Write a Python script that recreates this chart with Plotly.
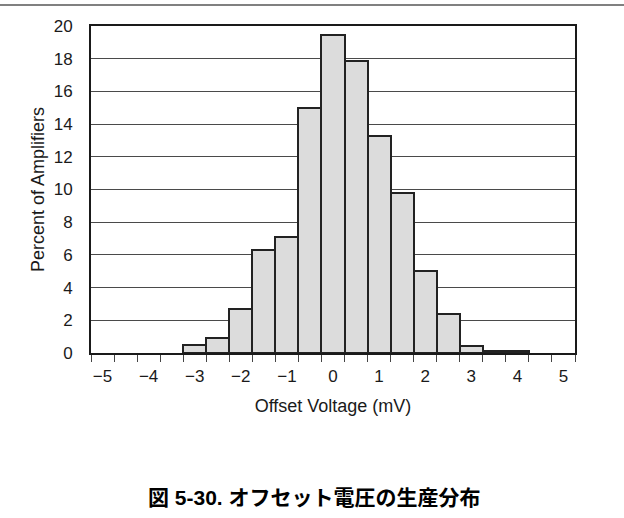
import plotly.graph_objects as go

# Data
bin_centers = [-3.0, -2.5, -2.0, -1.5, -1.0, -0.5, 0.0, 0.5, 1.0, 1.5, 2.0, 2.5, 3.0, 3.5, 4.0]
percent = [0.47, 0.9, 2.7, 6.28, 7.08, 15.0, 19.45, 17.84, 13.27, 9.8, 5.0, 2.41, 0.43, 0.12, 0.12]
x_tick_vals = [-5, -4, -3, -2, -1, 0, 1, 2, 3, 4, 5]
x_tick_text = ["\u22125", "\u22124", "\u22123", "\u22122", "\u22121", "0", "1", "2", "3", "4", "5"]
y_tick_vals = [0, 2, 4, 6, 8, 10, 12, 14, 16, 18, 20]

FONT = "Liberation Sans, Arial, sans-serif"
TXT = "#1a1a1a"
FS = 17
FT = 18

fig = go.Figure()
fig.add_trace(go.Bar(
    x=bin_centers, y=percent, width=0.5,
    marker=dict(color="#dcdcdc", line=dict(color="#222222", width=2)),
    hoverinfo="x+y",
))

fig.update_layout(
    width=624, height=518,
    margin=dict(l=91, r=49, t=26, b=165),
    paper_bgcolor="white", plot_bgcolor="white",
    showlegend=False,
    font=dict(family=FONT, size=FS, color=TXT),
    bargap=0,
)

fig.update_xaxes(
    range=[-5.25, 5.25],
    tickmode="array", tickvals=x_tick_vals, ticktext=x_tick_text,
    ticks="outside", ticklen=7, tickcolor="rgba(0,0,0,0)",
    minor=dict(tick0=-5.25, dtick=0.5, ticks="outside", ticklen=7,
               tickcolor="#444444", tickwidth=1, showgrid=False),
    showgrid=False, zeroline=False,
    showline=True, linecolor="#1a1a1a", linewidth=2, mirror=True,
    title=dict(text="Offset Voltage (mV)", font=dict(family=FONT, size=FT, color=TXT), standoff=14),
    tickfont=dict(family=FONT, size=FS, color=TXT),
)

fig.update_yaxes(
    range=[0, 20],
    tickmode="array", tickvals=y_tick_vals,
    ticks="outside", ticklen=13, tickcolor="rgba(0,0,0,0)",
    showgrid=True, gridcolor="#4a4a4a", gridwidth=1,
    zeroline=False,
    showline=True, linecolor="#1a1a1a", linewidth=2, mirror=True,
    title=dict(text="Percent of Amplifiers", font=dict(family=FONT, size=FT, color=TXT), standoff=4),
    tickfont=dict(family=FONT, size=FS, color=TXT),
)

# top separator line
fig.add_shape(type="line", xref="paper", yref="paper",
              x0=-91/484, x1=533/484, y0=348/327, y1=348/327,
              line=dict(color="#808080", width=2))

# caption
fig.add_annotation(
    text="<b>図 5-30. オフセット電圧の生産分布</b>",
    xref="paper", yref="paper", x=(314-91)/484, y=(353-497)/327,
    xanchor="center", yanchor="middle", showarrow=False,
    font=dict(family="Liberation Sans, Noto Sans CJK JP, sans-serif", size=21, color="#000000"),
)

fig.write_html("out.html", config={"displayModeBar": False},
               post_script="document.body.style.margin='0';")
